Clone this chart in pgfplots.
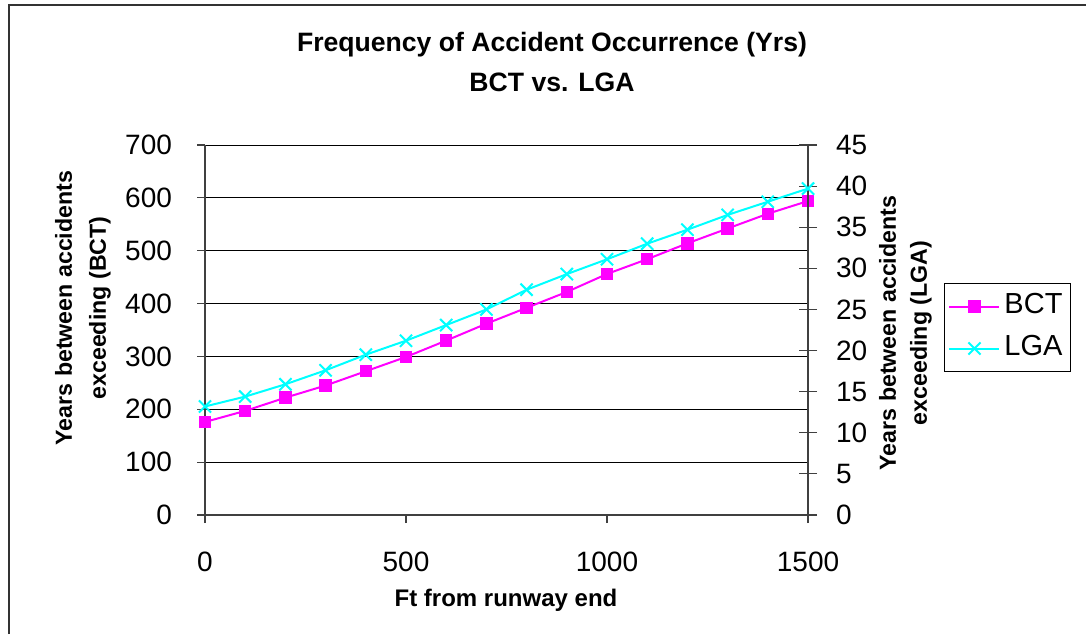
\documentclass[border=0pt]{standalone}
\usepackage{fontspec}
\setmainfont{Liberation Sans}
\usepackage{pgfplots}
\pgfplotsset{compat=1.18}
\usepackage{pgfplotstable}
\definecolor{bctc}{RGB}{255,0,255}
\definecolor{lgac}{RGB}{0,255,255}
\pgfplotstableread{
x y
0 176
100 197
200 222
300 245
400 272
500 299
600 330
700 362
800 392
900 422
1000 456
1100 484
1200 514
1300 542
1400 570
1500 594
}\bct
\pgfplotstableread{
x y
0 13.2
100 14.4
200 15.9
300 17.6
400 19.5
500 21.2
600 23.1
700 25.0
800 27.4
900 29.3
1000 31.1
1100 33.0
1200 34.7
1300 36.5
1400 38.1
1500 39.7
}\lga
\begin{document}
\begin{tikzpicture}
\useasboundingbox (0,0) rectangle (543pt,317pt);
\draw[line width=0.7pt, black!80] (4.5pt,0) -- (4.5pt,314.5pt) -- (543pt,314.5pt);
\pgfplotsset{common/.style={
  at={(102.5pt,59.5pt)}, anchor=south west, scale only axis,
  width=301.5pt, height=185pt, xmin=0, xmax=1500, clip=false,
  /pgf/number format/assume math mode=true,
  /pgf/number format/1000 sep={},
  ticklabel style={font=\fontsize{14}{16}\selectfont},
  axis line style={-, line width=0.6pt, black!75},
  major tick length=4pt,
  tick style={line width=0.6pt, black!75}}}
\begin{axis}[common,
  axis x line*=bottom, axis y line*=left,
  ymin=0, ymax=700, ytick={0,100,...,700},
  xtick={0,500,1000,1500}, tick align=outside,
  ymajorgrids, grid style={line width=0.5pt, black},
  yticklabel style={xshift=-9pt},
  xticklabel style={yshift=-11pt}]
\addplot[bctc, line width=1pt, mark=square*, mark size=2.6pt] table {\bct};
\end{axis}
\begin{axis}[common,
  axis x line=none, axis y line*=right,
  ymin=0, ymax=45, ytick={0,5,...,45},
  tick align=center, major tick length=9pt,
  yticklabel style={xshift=6pt},
  legend style={at={(1.2255,0.627)}, anchor=north west, draw=black, line width=0.5pt,
    font=\fontsize{14.5}{16}\selectfont, inner xsep=2pt, inner ysep=3pt,
    nodes={inner sep=2pt, text height=10pt, text depth=3pt}, row sep=4pt},
  legend cell align=left,
  legend image code/.code={\draw[mark repeat=2, mark phase=2] plot coordinates {(0pt,0pt) (12.5pt,0pt) (25pt,0pt)};}]
\addlegendimage{bctc, line width=1pt, mark=square*, mark size=2.6pt}
\addlegendentry{BCT}
\addplot[lgac, line width=1pt, mark=x, mark size=4.3pt, mark options={line width=1pt}] table {\lga};
\addlegendentry{LGA}
\end{axis}
\node[anchor=base, font=\fontsize{13.3}{16}\bfseries\selectfont] at (276pt,291.5pt) {Frequency of Accident Occurrence (Yrs)};
\node[anchor=base, font=\fontsize{13.3}{16}\bfseries\selectfont] at (276pt,271.2pt) {BCT vs. LGA};
\node[anchor=base, font=\fontsize{12}{14}\bfseries\selectfont] at (253pt,13.7pt) {Ft from runway end};
\node[rotate=90, align=center, font=\fontsize{11.6}{17}\bfseries\selectfont] at (41.5pt,163pt) {Years between accidents\\exceeding (BCT)};
\node[rotate=90, align=center, font=\fontsize{11.6}{15.5}\bfseries\selectfont] at (452.75pt,150.5pt) {Years between accidents\\exceeding (LGA)};
\end{tikzpicture}
\end{document}
